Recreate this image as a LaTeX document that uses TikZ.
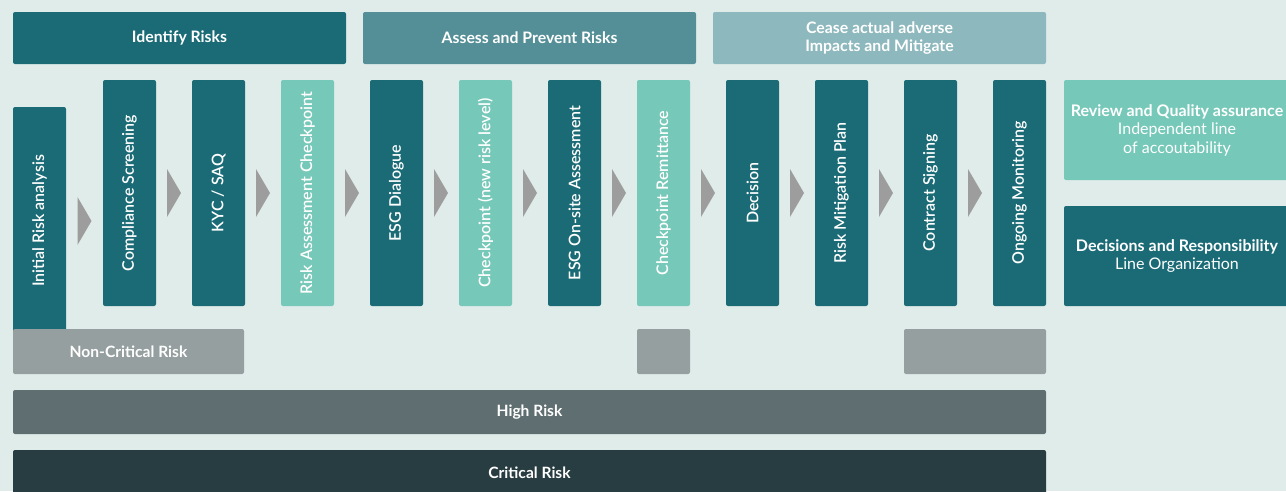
\documentclass[tikz,border=0pt]{standalone}
\usepackage{fontspec}
\setmainfont{Lato}
\newfontfamily\stagefont{Lato Semibold}
\usepackage{graphicx}
\usetikzlibrary{calc,decorations.markings}
\definecolor{bgmint}{HTML}{E0ECEA}
\definecolor{teal}{HTML}{1A6B76}
\definecolor{midteal}{HTML}{548F98}
\definecolor{paleteal}{HTML}{8DB8BD}
\definecolor{mint}{HTML}{76C8B9}
\definecolor{stone}{HTML}{959FA0}
\definecolor{slate}{HTML}{5F6E71}
\definecolor{deepslate}{HTML}{283D41}
\definecolor{arrowgray}{HTML}{9D9D9D}

\begin{document}
\begin{tikzpicture}[x=1pt, y=-1pt,
    box/.style={fill=#1, rounded corners=2pt, inner sep=0pt, text=white, align=center},
    header/.style={box=#1, minimum width=333, minimum height=52,
                   font=\fontsize{15.8}{18}\selectfont\bfseries},
    stage/.style={box=#1, minimum width=53, minimum height=226,
                  font=\fontsize{16}{18}\selectfont\stagefont},
    band/.style={box=#1, minimum height=45, font=\fontsize{15.6}{18}\selectfont\bfseries},
    role/.style={box=#1, minimum width=226, minimum height=100,
                 font=\fontsize{16}{18.5}\selectfont},
    chev/.style={decoration={markings, mark=at position 0.5 with
                 {\fill[arrowgray] (-7,-24) -- (7,0) -- (-7,24) -- cycle;}}, decorate},
]

% Fondo
\fill[bgmint] (0,0) rectangle (1286,491);
\useasboundingbox (0,0) rectangle (1286,491);

% Fases superiores
\node[header=teal]     (identify) at (179.5,38) {Identify Risks};
\node[header=midteal]  (assess)   at (529.5,38) {Assess and Prevent Risks};
\node[header=paleteal] (cease)    at (879.5,38) {Cease actual adverse\\Impacts and Mitigate};

% Pasos del proceso
\node[stage=teal, minimum height=228] (init) at (39.5,221) {\rotatebox{90}{Initial Risk analysis}};
\node[stage=teal]  (comp)    at (129.5,193) {\rotatebox{90}{Compliance Screening}};
\node[stage=teal]  (kyc)     at (218.5,193) {\rotatebox{90}{KYC / SAQ}};
\node[stage=mint]  (rac)     at (307.5,193) {\rotatebox{90}{Risk Assessment Checkpoint}};
\node[stage=teal]  (dialog)  at (396.5,193) {\rotatebox{90}{ESG Dialogue}};
\node[stage=mint]  (newrisk) at (485.5,193) {\rotatebox{90}{Checkpoint (new risk level)}};
\node[stage=teal]  (onsite)  at (574.5,193) {\rotatebox{90}{ESG On-site Assessment}};
\node[stage=mint]  (remit)   at (663.5,193) {\rotatebox{90}{Checkpoint Remittance}};
\node[stage=teal]  (decide)  at (752.5,193) {\rotatebox{90}{Decision}};
\node[stage=teal]  (plan)    at (841.5,193) {\rotatebox{90}{Risk Mitigation Plan}};
\node[stage=teal]  (sign)    at (930.5,193) {\rotatebox{90}{Contract Signing}};
\node[stage=teal]  (monitor) at (1019.5,193) {\rotatebox{90}{Ongoing Monitoring}};

% Flechas
\path[chev] (init.east) -- (init.east -| comp.west);
\path[chev] (comp.east) -- (kyc.west);
\path[chev] (kyc.east) -- (rac.west);
\path[chev] (rac.east) -- (dialog.west);
\path[chev] (dialog.east) -- (newrisk.west);
\path[chev] (newrisk.east) -- (onsite.west);
\path[chev] (onsite.east) -- (remit.west);
\path[chev] (remit.east) -- (decide.west);
\path[chev] (decide.east) -- (plan.west);
\path[chev] (plan.east) -- (sign.west);
\path[chev] (sign.east) -- (monitor.west);

% Niveles de riesgo
\node[band=stone, minimum width=231]  (noncrit) at (128.5,351.5) {Non-Critical Risk};
\node[band=stone, minimum width=53]   (midcrit) at (663.5,351.5) {};
\node[band=stone, minimum width=142]  (endcrit) at (975,351.5) {};
\node[band=slate, minimum width=1033, minimum height=44] (high) at (529.5,412) {High Risk};
\node[band=deepslate, minimum width=1033, minimum height=46] (crit) at (529.5,473) {Critical Risk};

% Leyenda
\node[role=mint] (review) at (1177,130)
    {\textbf{Review and Quality assurance}\\Independent line\\of accoutability};
\node[role=teal] (line) at (1177,256)
    {\textbf{Decisions and Responsibility}\\Line Organization};

\end{tikzpicture}
\end{document}
